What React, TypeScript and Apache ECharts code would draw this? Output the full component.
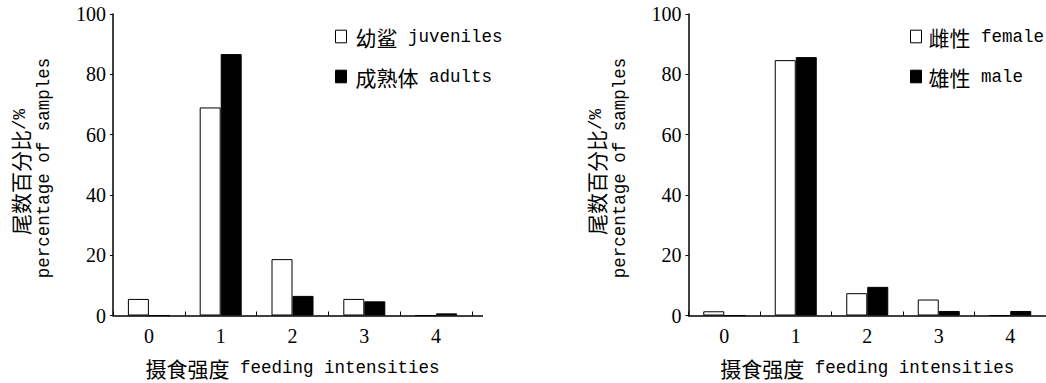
import { useEffect, useRef } from 'react';
import * as echarts from 'echarts';

const categories = ['0', '1', '2', '3', '4'];
const juveniles = [5.5, 69, 18.7, 5.5, 0];
const adults = [0, 86.7, 6.5, 4.7, 0.7];
const female = [1.4, 84.7, 7.4, 5.3, 0];
const male = [0, 85.7, 9.5, 1.5, 1.5];
const seriesNames = ['幼鲨 juveniles', '成熟体 adults', '雌性 female', '雄性 male'];
const xName = ['摄食强度', ' feeding intensities'];
const yName = [['尾数百分比', '/%'], ['percentage of samples']];

const CJK = '"Noto Sans CJK SC"';
const MONO = '"Liberation Mono"';
const SERIF = '"Liberation Serif"';

export default function App() {
  const ref = useRef<HTMLDivElement>(null);
  useEffect(() => {
    document.body.style.margin = '0';
    const chart = echarts.init(ref.current!, null, { renderer: 'svg' });
    const richFor = (pad: number) => ({
      c: { fontFamily: CJK, fontSize: 21, lineHeight: 24, color: '#000', padding: [0, 0, 0, pad] },
      l: { fontFamily: MONO, fontSize: 17.5, lineHeight: 24, color: '#000' },
    });
    const fmt = (name: string) => {
      const i = name.indexOf(' ');
      return `{c|${name.slice(0, i)}}{l|${name.slice(i)}}`;
    };
    const grids = [
      { left: 113, top: 14, width: 359, height: 302 },
      { left: 688.5, top: 14, width: 358, height: 302 },
    ];
    const xAxis = grids.map((_, gi) => ({
      type: 'category',
      gridIndex: gi,
      data: categories,
      axisLine: { show: true, lineStyle: { color: '#000', width: 1.5 } },
      axisTick: { show: true, inside: true, length: 4, lineStyle: { color: '#000', width: 1 } },
      axisLabel: { color: '#000', fontFamily: SERIF, fontSize: 20, margin: 10 },
      name: `{c|${xName[0]}}{l|${xName[1]}}`,
      nameLocation: 'middle',
      nameGap: 40,
      nameTextStyle: { rich: richFor(0) },
    }));
    const yAxis = grids.map((_, gi) => ({
      type: 'value',
      gridIndex: gi,
      min: 0,
      max: 100,
      interval: 20,
      splitLine: { show: false },
      axisLine: { show: true, lineStyle: { color: '#000', width: 1.5 } },
      axisTick: { show: true, length: 3, lineStyle: { color: '#000', width: 1 } },
      axisLabel: { color: '#000', fontFamily: SERIF, fontSize: 20, margin: 7 },
    }));
    const white = { color: '#fff', borderColor: '#000', borderWidth: 1 };
    const black = { color: '#000', borderColor: '#000', borderWidth: 1 };
    const bar = (name: string, data: number[], gi: number, style: any) => ({
      type: 'bar',
      name,
      data,
      xAxisIndex: gi,
      yAxisIndex: gi,
      barWidth: 21,
      barGap: '0%',
      itemStyle: style,
    });
    const legend = (left: number, names: string[], pad: number) => ({
      orient: 'vertical',
      left,
      top: 26,
      padding: 0,
      itemWidth: 11,
      itemHeight: 12.6,
      itemGap: 19,
      icon: 'rect',
      selectedMode: false,
      formatter: fmt,
      textStyle: { color: '#000', rich: richFor(pad) },
      data: [
        { name: names[0], itemStyle: white },
        { name: names[1], itemStyle: black },
      ],
    });
    const yTitle = (axisX: number) => [
      {
        type: 'text',
        x: axisX - 93,
        y: 172,
        rotation: Math.PI / 2,
        style: {
          text: `{c|${yName[0][0]}}{l|${yName[0][1]}}`,
          align: 'center',
          verticalAlign: 'middle',
          rich: richFor(0),
        },
      },
      {
        type: 'text',
        x: axisX - 69,
        y: 168,
        rotation: Math.PI / 2,
        style: {
          text: `{l|${yName[1][0]}}`,
          align: 'center',
          verticalAlign: 'middle',
          rich: richFor(0),
        },
      },
    ];
    chart.setOption({
      animation: false,
      backgroundColor: '#fff',
      grid: grids,
      xAxis,
      yAxis,
      legend: [legend(335, seriesNames.slice(0, 2), 4), legend(910, seriesNames.slice(2, 4), 2)],
      series: [
        bar(seriesNames[0], juveniles, 0, white),
        bar(seriesNames[1], adults, 0, black),
        bar(seriesNames[2], female, 1, white),
        bar(seriesNames[3], male, 1, black),
      ],
      graphic: [
        ...yTitle(113),
        ...yTitle(688.5),
        { type: 'line', shape: { x1: 472, y1: 316, x2: 483, y2: 316 }, style: { stroke: '#000', lineWidth: 1.5 } },
      ],
    });
    return () => chart.dispose();
  }, []);
  return <div ref={ref} style={{ width: 1046, height: 383 }} />;
}
